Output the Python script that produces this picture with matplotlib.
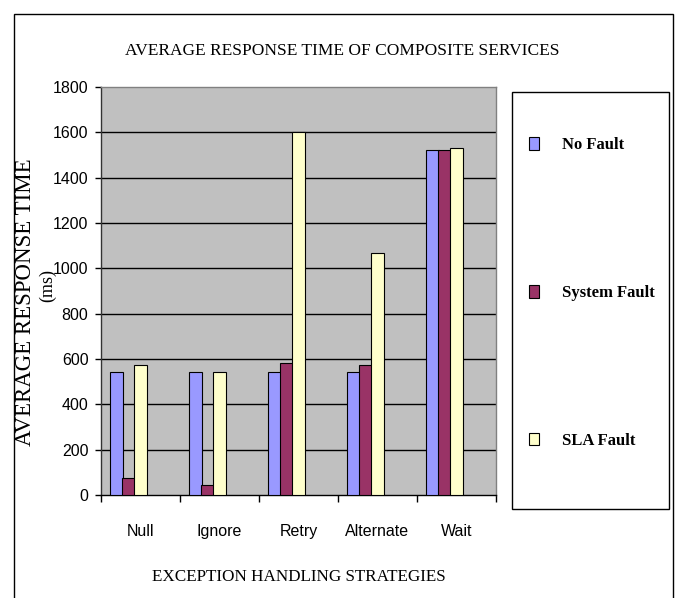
import matplotlib
matplotlib.use("Agg")
import matplotlib.pyplot as plt
from matplotlib import font_manager
from matplotlib.patches import Rectangle
import numpy as np

# ---- data ----
categories = ["Null", "Ignore", "Retry", "Alternate", "Wait"]
series_names = ["No Fault", "System Fault", "SLA Fault"]
no_fault = [541, 541, 541, 541, 1524]
system_fault = [75, 42, 582, 575, 1524]
sla_fault = [575, 541, 1600, 1066, 1533]
y_ticks = [0, 200, 400, 600, 800, 1000, 1200, 1400, 1600, 1800]

title = "AVERAGE RESPONSE TIME OF COMPOSITE SERVICES"
x_label = "EXCEPTION HANDLING STRATEGIES"
y_label = "AVERAGE RESPONSE TIME"
y_unit = "(ms)"

colors = ["#9999FF", "#993366", "#FFFFCC"]

# ---- fonts ----
names = {f.name for f in font_manager.fontManager.ttflist}
sans = "Liberation Sans Narrow" if "Liberation Sans Narrow" in names else "Liberation Sans"
serif = "Liberation Serif"
tick_size = 13 if sans == "Liberation Sans Narrow" else 11.5

W, H = 678, 598
fig = plt.figure(figsize=(W / 100, H / 100), dpi=100)
fig.patch.set_facecolor("white")

# outer border
fig.patches.append(Rectangle((14 / W, -0.02), (672.7 - 14) / W, 1 - 14 / H + 0.02,
                             transform=fig.transFigure, fill=False,
                             edgecolor="black", linewidth=1.0, zorder=0))

ax = fig.add_axes([101 / W, (H - 495) / H, 395 / W, 408 / H])
ax.set_facecolor("#C0C0C0")

x = np.arange(len(categories))
offsets = [-0.305, -0.152, 0.0]
width = 0.155
series = [no_fault, system_fault, sla_fault]
handles = []
for vals, off, c, name in zip(series, offsets, colors, series_names):
    b = ax.bar(x + off, vals, width, color=c, edgecolor="black",
               linewidth=0.8, label=name, zorder=3)
    handles.append(b)

ax.set_xlim(-0.5, len(categories) - 0.5)
ax.set_ylim(0, 1800)
ax.set_yticks(y_ticks)
ax.set_yticklabels([str(v) for v in y_ticks], fontfamily=sans, fontsize=tick_size)
for v in y_ticks[1:-1]:
    ax.axhline(v, color="black", linewidth=1.0, zorder=1)

ax.set_xticks(x)
ax.set_xticklabels(categories, fontfamily=sans, fontsize=tick_size)
ax.set_xticks(np.arange(len(categories) + 1) - 0.5, minor=True)
ax.tick_params(axis="x", which="major", length=0, pad=21)
ax.tick_params(axis="x", which="minor", length=5, width=1.0, color="black", direction="out")
ax.tick_params(axis="y", length=4, width=1.0, color="black", direction="out", pad=5)

ax.spines["top"].set_color("#808080")
ax.spines["right"].set_color("#808080")
ax.spines["left"].set_color("#333333")
ax.spines["bottom"].set_color("black")
for s in ax.spines.values():
    s.set_linewidth(1.0)

ax.set_xlabel(x_label, fontfamily=serif, fontsize=12.3, va="center")
ax.xaxis.set_label_coords(0.5, -82 / 408)
ax.set_ylabel(y_label, fontfamily=serif, fontsize=16.5, va="center", ha="center")
ax.yaxis.set_label_coords(-75 / 395, (495 - 302) / 408)
fig.text(48 / W, 1 - 285 / H, y_unit, fontfamily=serif, fontsize=13,
         rotation=90, ha="center", va="center")

fig.text(342.5 / W, 1 - 51 / H, title, fontfamily=serif, fontsize=12.5,
         ha="center", va="center")

# legend box
fig.patches.append(Rectangle((512 / W, (H - 509) / H), 157 / W, 417 / H,
                             transform=fig.transFigure, fill=True, facecolor="white",
                             edgecolor="black", linewidth=1.0, zorder=1))
leg = fig.legend(handles=handles, labels=series_names, loc="upper left",
                 bbox_to_anchor=(529 / W, 1 - 137 / H), frameon=False,
                 prop={"family": serif, "weight": "bold", "size": 12},
                 handlelength=0.6, handleheight=0.8, handletextpad=1.4,
                 labelspacing=7.9, borderpad=0, borderaxespad=0)
leg.set_zorder(5)

fig.savefig("out.png", dpi=100)
